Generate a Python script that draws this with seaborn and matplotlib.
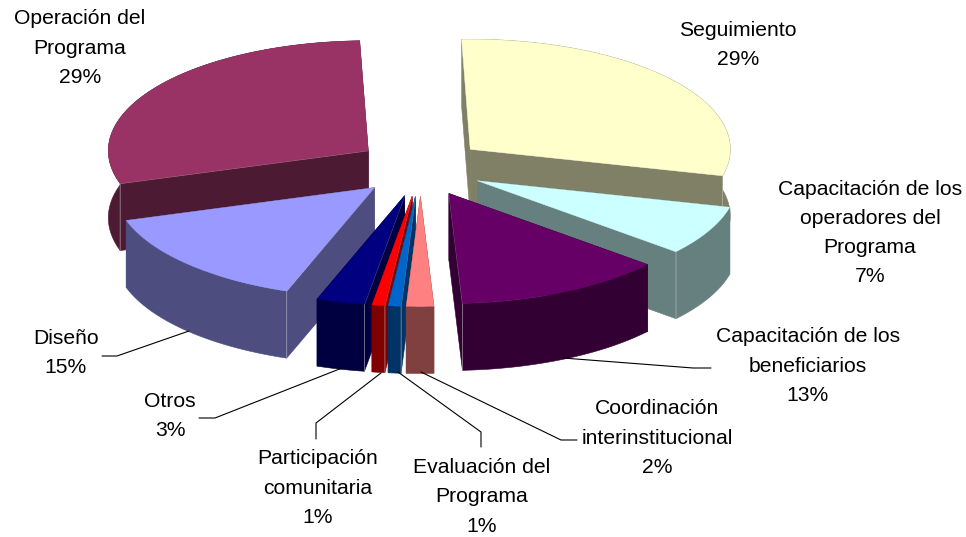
import numpy as np
import seaborn as sns
import matplotlib.pyplot as plt

sns.set_theme(style='white')
plt.rcParams['font.family'] = ['Liberation Sans', 'DejaVu Sans']

# clockwise from the top
names = ['Seguimiento', 'Capacitación de los\noperadores del\nPrograma',
         'Capacitación de los\nbeneficiarios', 'Coordinación\ninterinstitucional',
         'Evaluación del\nPrograma', 'Participación\ncomunitaria', 'Otros',
         'Diseño', 'Operación del\nPrograma']
values = [29.4, 7.3, 13.0, 1.7, 0.8, 0.8, 3.0, 14.7, 29.3]

top_colors = ['#FFFFCC', '#CCFFFF', '#660066', '#FF8080', '#0066CC',
              '#FF0000', '#000080', '#9999FF', '#993366']
side_colors = ['#808066', '#668080', '#330033', '#804040', '#003366',
               '#800000', '#000040', '#4D4D80', '#4D1A33']

label_pos = [(738, 45), (870, 233), (808, 366), (657, 438), (482, 497),
             (318, 488), (170, 416), (66, 353), (80, 48)]

leaders = [
    [(711, 368), (693, 368), (563, 358)],
    [(577, 440), (561, 440), (421, 372)],
    [(481, 447), (481, 432), (398, 372)],
    [(316, 439), (316, 423), (381, 373)],
    [(199, 418), (215, 418), (342, 368)],
    [(102, 356), (117, 356), (189, 331)],
]

# pie geometry in pixels
cx, cy = 420.5, 167.5
rx, ry = 260, 110
ex, ey = 64, 29
depth = 67
start = -1.9

tops = sns.color_palette(top_colors)
sides = sns.color_palette(side_colors)


def rim(t):
    t = np.radians(t)
    return np.sin(t) * rx, -np.cos(t) * ry


def wall(ax, pts, color):
    pts = np.array(pts)
    low = pts + [0, depth]
    poly = np.vstack([pts, low[::-1]])
    ax.fill(poly[:, 0], poly[:, 1], color=color, lw=0.4, zorder=ax.nz)
    ax.nz += 1


fig = plt.figure(figsize=(9.66, 5.37), dpi=100)
ax = fig.add_axes([0, 0, 1, 1])
ax.nz = 2

shares = np.array(values) / sum(values) * 360
ends = start + np.cumsum(shares)
begins = ends - shares
mids = (begins + ends) / 2

# back slices first so the front ones cover them
for i in np.argsort(-np.cos(np.radians(mids))):
    ox = cx + ex * np.sin(np.radians(mids[i]))
    oy = cy - ey * np.cos(np.radians(mids[i]))
    t = np.arange(begins[i], ends[i], 1.0)
    t = np.append(t, ends[i])
    x, y = rim(t)
    arc = np.column_stack([ox + x, oy + y])
    apex = (ox, oy)
    wall(ax, [apex, arc[0]], sides[i])
    wall(ax, [apex, arc[-1]], sides[i])
    wall(ax, arc, sides[i])
    # light hairline on the corners of a visible cut
    corners = []
    if begins[i] % 360 > 180:
        corners.append(arc[0])
    if ends[i] % 360 < 180:
        corners.append(arc[-1])
    for c in corners:
        ax.plot([apex[0], c[0], c[0]], [apex[1], c[1], c[1] + depth],
                color='#C8C8C8', lw=0.6, alpha=0.6, zorder=ax.nz)
    ax.nz += 1
    face = np.vstack([[apex], arc])
    ax.fill(face[:, 0], face[:, 1], color=tops[i], lw=0.2, zorder=ax.nz)
    ax.nz += 1

for line in leaders:
    line = np.array(line)
    ax.plot(line[:, 0], line[:, 1], color='black', lw=0.8, zorder=100)

for name, v, (lx, ly) in zip(names, values, label_pos):
    ax.text(lx, ly, f'{name}\n{round(v)}%', ha='center', va='center',
            fontsize=15.2, linespacing=1.67, color='black', zorder=101)

ax.set_xlim(0, 966)
ax.set_ylim(537, 0)
ax.axis('off')

plt.savefig('out.png', dpi=100)
